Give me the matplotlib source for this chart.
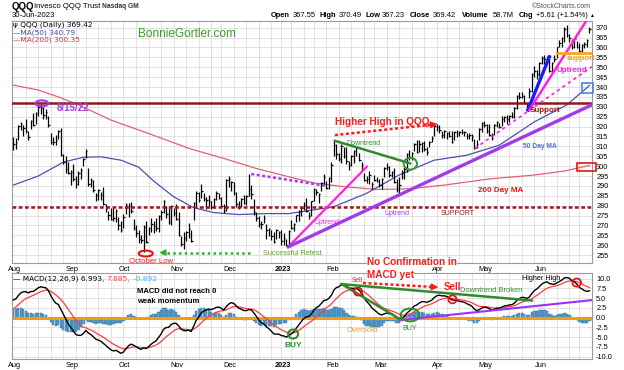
import numpy as np
import pandas as pd
import matplotlib
matplotlib.use("Agg")
import matplotlib.pyplot as plt
from matplotlib.patches import Ellipse, Rectangle

plt.rcParams["font.family"] = ["Liberation Sans", "DejaVu Sans"]

W_PX, H_PX = 624, 370

HOLIDAYS = ["2022-09-05", "2022-11-24", "2022-12-26", "2023-01-02",
            "2023-01-16", "2023-02-20", "2023-04-07", "2023-05-29", "2023-06-19"]

# daily bars, Aug 2022 .. Jun 2023, one line per month
highs = [
    314.5, 314, 321, 322.5, 321, 324, 318, 323.5, 327, 327.5, 331, 331.5, 330, 329, 325.5, 317, 314.5, 315.5, 318.5, 319.5, 306, 305, 302,
    298, 301, 295, 297.5, 299, 304, 308.5, 299, 294, 293, 286.5, 288.5, 287, 289.5, 281, 277.5, 279, 279, 278.5, 274.5, 272,
    276, 281.5, 281.5, 282, 273.5, 270, 267.5, 265, 270, 272, 269, 274, 272, 274, 275.5, 278, 283, 280, 279, 280.5, 279,
    281, 277, 264.5, 266.5, 267, 271, 267.5, 282, 287.5, 287, 291, 286.5, 284.5, 285.5, 282.5, 284, 287.5, 286.5, 284.5, 281, 293.5,
    295, 292.5, 292, 287, 282.5, 284, 285.5, 285.5, 296, 290.5, 283.5, 277, 275, 272, 275.5, 270.5, 268.5, 267.5, 266.5, 268, 267,
    267.5, 266, 263, 267.5, 273, 271, 275.5, 278, 279.5, 282, 284, 277, 282.5, 289, 288.5, 286.5, 292, 296, 292.5, 294.5,
    302, 313, 311, 306.5, 311, 309.5, 309.5, 302.5, 305.5, 308, 309.5, 306.5, 302, 296.5, 295, 297.5, 292, 295.5, 294.5,
    293.5, 294, 299.5, 301.5, 300, 297.5, 299, 293.5, 294.5, 298, 299.5, 306.5, 308, 307, 311.5, 313, 313, 312, 312.5, 309.5, 312.5, 315, 321,
    321.5, 321, 318, 318.5, 317.5, 318, 318, 318, 318.5, 318, 319, 318, 317, 316.5, 316, 313.5, 313, 319.5, 322.5,
    323, 321.5, 321.5, 316.5, 321.5, 323, 322, 325.5, 325.5, 326, 326, 327.5, 330, 336, 337.5, 337.5, 336, 332, 339.5, 347, 350.5, 348.5,
    352.5, 355.5, 356, 355.5, 355.5, 352.5, 356, 360.5, 364, 365.5, 370.5, 371.5, 367, 364.5, 365, 363.5, 362.5, 362, 363, 364.5, 370.5,
]
lows = [
    308, 308.5, 313, 318.5, 315, 316.5, 313, 319, 320.5, 321.5, 325.5, 326.5, 324, 324, 320, 311, 310.5, 310.5, 313.5, 305, 301, 296.5, 296,
    290.5, 292.5, 289, 290.5, 293.5, 300, 304, 290, 289.5, 287, 282.5, 283, 283, 280.5, 277, 272.5, 273, 272, 271.5, 267.5, 266.5,
    268.5, 276, 274.5, 276.5, 267.5, 264, 261, 261, 256.5, 261, 265, 266.5, 266, 267, 266.5, 272.5, 276.5, 274, 270.5, 270, 275,
    272.5, 264.5, 259.5, 258, 262, 263.5, 261.5, 273, 280, 282, 284, 282.5, 278.5, 280, 278.5, 279, 283, 283.5, 279.5, 276.5, 277.5,
    289.5, 287.5, 285.5, 279.5, 278.5, 279.5, 281, 280.5, 285, 283.5, 275.5, 272, 269, 268, 271, 263, 264.5, 262.5, 261, 263, 263.5,
    260, 260, 259.5, 259, 268, 267, 271.5, 272, 275, 278, 277, 273.5, 275, 282.5, 285.5, 281.5, 287.5, 290.5, 288.5, 288.5,
    292, 305, 303.5, 302.5, 301.5, 304, 301, 298, 300, 301.5, 305, 302.5, 297.5, 292.5, 291.5, 291, 288.5, 292.5, 292,
    289.5, 288.5, 294.5, 298, 294.5, 294.5, 291.5, 287, 285.5, 293.5, 293.5, 297, 303, 303, 307.5, 306.5, 307, 307, 307.5, 305.5, 309.5, 312, 315,
    318, 317, 314, 314, 313.5, 314.5, 311.5, 313, 314.5, 315, 316, 315, 313.5, 313.5, 312.5, 308.5, 309, 313, 317.5,
    320, 317, 315, 313, 315.5, 320, 319.5, 320.5, 322.5, 321.5, 322.5, 324.5, 324.5, 329, 334, 334.5, 331.5, 328.5, 334.5, 337.5, 345, 344,
    345.5, 351.5, 351.5, 351.5, 347.5, 347.5, 352.5, 354.5, 360, 360.5, 363, 365.5, 363, 359, 359.5, 359.5, 357.5, 357.5, 359.5, 360.5, 367.2,
]
closes = [
    311, 312, 320.5, 321.5, 319.5, 318, 314.5, 323, 321, 327, 330, 329.5, 326, 327.5, 321, 312, 312, 313, 318, 305.5, 302, 298.5, 296.5,
    297, 293.5, 291, 296.5, 298, 303.5, 307.5, 291, 293, 288, 285.5, 288, 285.5, 281, 278.5, 275.5, 273.5, 274, 277.5, 270, 267.5,
    274.5, 280.5, 280, 277.5, 268.5, 266, 263, 262.5, 269, 261.5, 268.5, 270.5, 269.5, 268.5, 275, 277, 282.5, 276, 271.5, 280, 276.5,
    273.5, 265, 260.5, 263.5, 266.5, 268, 262, 281.5, 286.5, 283, 287.5, 283.5, 283, 282.5, 279.5, 283.5, 286.5, 284, 280, 277.5, 293,
    293.5, 292, 286.5, 281, 280, 283.5, 281.5, 285, 288.5, 286, 277, 274, 270.5, 270.5, 274, 267.5, 268, 264.5, 261.5, 267.5, 266.5,
    262, 263.5, 260, 267, 268.5, 270.5, 275.5, 277.5, 279, 280.5, 277.5, 275, 282.5, 288.5, 287, 286, 291.5, 294.5, 289, 294,
    300.5, 310.5, 306, 303.5, 310, 305, 302.5, 300.5, 305, 307.5, 309, 303, 300.5, 293, 293.5, 295.5, 291, 293, 292.5,
    290.5, 293.5, 299, 299.5, 295.5, 297, 292, 288, 290.5, 297, 298.5, 306, 304.5, 306.5, 311, 307, 311, 311.5, 308.5, 307, 312, 314, 320.5,
    320, 318.5, 315.5, 318, 317, 315, 312, 317.5, 317, 317.5, 317.5, 317.5, 315, 315.5, 314.5, 309, 311, 319, 322,
    321, 318, 315.5, 314, 321, 322.5, 320, 324, 325, 324, 325.5, 325.5, 329.5, 335.5, 335, 335.5, 332, 330.5, 338, 346.5, 348, 346.5,
    352, 354.5, 354, 354.5, 348, 352, 354, 360, 362.5, 365, 369.5, 366.5, 365, 360, 364.5, 360.5, 358, 361.5, 362, 363.8, 369.4,
]

# moving averages at trading-day positions
ma50_idx = [0, 10, 20, 28, 35, 43, 50, 56, 64, 72, 80, 90, 101, 110, 118, 128, 141, 154, 168, 181, 194, 208, 221, 230]
ma50_val = [290.4, 295, 302, 304.5, 304.7, 303, 299.5, 292.5, 284.5, 279, 276.5, 275.5, 276, 276, 277.5, 279.5,
            286.2, 295.5, 303, 305.5, 310.6, 322.4, 331, 340.8]
ma200_idx = [0, 10, 18, 26, 39, 52, 59, 70, 84, 97, 110, 120, 132, 145, 158, 172, 190, 208, 220, 230]
ma200_val = [341, 338.5, 335, 331, 323.3, 317.4, 314.2, 309, 303.9, 298.8, 294.6, 291.5, 289.6, 288.2, 288.5,
             290.4, 293.5, 295.5, 297.5, 300.35]

# EMA state going into Aug 1 (12-day, 26-day, 9-day signal)
macd_seed = [303.0, 298.8, 1.6]

month_labels = ["Aug", "Sep", "Oct", "Nov", "Dec", "2023", "Feb", "Mar", "Apr", "May", "Jun"]
price_ticks = list(range(255, 371, 5))
macd_ticks = [-10, -7.5, -5, -2.5, 0, 2.5, 5, 7.5, 10]


def compute_macd(values, seed):
    ema12, ema26, sig = seed
    macd, signal = [], []
    for c in values:
        ema12 += (c - ema12) * 2 / 13
        ema26 += (c - ema26) * 2 / 27
        m = ema12 - ema26
        sig += (m - sig) * 2 / 10
        macd.append(m)
        signal.append(sig)
    return np.array(macd), np.array(signal)


dates = pd.bdate_range("2022-08-01", "2023-06-30")
dates = dates[~dates.isin(pd.to_datetime(HOLIDAYS))]
n = len(dates)
assert n == len(closes) == len(highs) == len(lows)
x = np.arange(n)

month_pos = [0] + [i for i in range(1, n) if dates[i].month != dates[i - 1].month]
week_pos = [i for i in range(1, n) if dates[i].weekday() < dates[i - 1].weekday()]

macd, signal = compute_macd(closes, macd_seed)
hist = macd - signal

fig = plt.figure(figsize=(W_PX / 100, H_PX / 100), dpi=100)
ax = fig.add_axes([12 / W_PX, 1 - 263 / H_PX, 580 / W_PX, 242 / H_PX])
mx = fig.add_axes([12 / W_PX, 1 - 359 / H_PX, 580 / W_PX, 86 / H_PX])


def ptext(px, py, s, **kw):
    kw.setdefault("va", "center")
    kw.setdefault("ha", "left")
    fig.text(px / W_PX, 1 - py / H_PX, s, **kw)


def style_panel(a, yticks, fmt, ylim, labels):
    a.set_xlim(-0.5, n)
    a.set_ylim(*ylim)
    a.set_xticks([p + 0.5 for p in month_pos])
    a.set_xticklabels(labels, fontsize=5.3)
    for lbl in a.get_xticklabels():
        if lbl.get_text() == "2023":
            lbl.set_fontweight("bold")
    a.set_xticks(week_pos, minor=True)
    a.set_yticks(yticks)
    a.set_yticklabels([fmt.format(t) for t in yticks], fontsize=5.3)
    a.yaxis.tick_right()
    a.tick_params(axis="both", which="both", length=0)
    a.tick_params(axis="x", pad=2.5)
    a.tick_params(axis="y", pad=3)
    a.grid(which="minor", axis="x", color="#dddddd", lw=0.6)
    a.grid(which="major", axis="y", color="#dddddd", lw=0.6)
    a.set_axisbelow(True)
    for sp in a.spines.values():
        sp.set_color("#9a9a9a")
        sp.set_linewidth(0.8)


# the "Mar" label of the price panel sits under the "MACD yet" note in the original
top_labels = [m if m != "Mar" else "" for m in month_labels]
style_panel(ax, price_ticks, "{:d}", (251, 373.4), top_labels)
style_panel(mx, macd_ticks, "{:.1f}", (-10.6, 11.46), month_labels)

# ---- price panel
ax.plot(ma200_idx, ma200_val, color="#e0607a", lw=0.9, zorder=2)
ax.plot(ma50_idx, ma50_val, color="#4a50b0", lw=0.9, zorder=2)
ax.vlines(x, lows, highs, color="black", lw=0.9, zorder=3)
ax.hlines(closes, x, x + 0.6, color="black", lw=0.9, zorder=3)

ax.axhline(331.7, color="#8b1a1a", lw=1.8, zorder=4)
ax.axhline(279.2, color="#9b1b1b", lw=1.8, ls=(0, (1.5, 1)), zorder=4)

purple = "#a23be8"
green = "#2e8b2e"
magenta = "#ff22dd"

ax.add_patch(Ellipse((11.4, 331.75), 5.2, 3.0, fill=False, ec=purple, lw=1.5, zorder=5))
ax.text(17.5, 329.4, "8/15/22", color=purple, fontsize=7, fontweight="bold", va="center", zorder=5)

ax.add_patch(Ellipse((52.9, 255.8), 5.6, 3.0, fill=False, ec="#ee1111", lw=1.5, zorder=5, clip_on=False))
ax.text(55, 251.6, "October Low", color="#e02020", fontsize=5.6, ha="center", va="center",
        zorder=5, clip_on=False)
ax.plot([94.5, 59.5], [256.3, 256.3], color="#33aa33", lw=1.8, ls=(0, (1, 1.3)), zorder=5)
ax.annotate("", xy=(57.2, 256.3), xytext=(61, 256.3),
            arrowprops=dict(arrowstyle="-|>", color="#33aa33", lw=1, mutation_scale=9), zorder=5)
ax.text(111.3, 256, "Successful Retest", color="#5aa02c", fontsize=5.3, ha="center", va="center", zorder=5)

ax.plot([95, 125], [296, 290], color=purple, lw=1.8, ls=(0, (1.2, 1)), zorder=5)
ax.plot([109.8, 141.1], [259.2, 299.7], color=magenta, lw=1.6, zorder=5)
ax.text(125.2, 271.7, "Uptrend", color=magenta, fontsize=5, ha="center", va="center", zorder=5)
ax.plot([109.8, 231], [259.2, 331], color=purple, lw=2.4, zorder=5)
ax.text(153.2, 276, "Uptrend", color=purple, fontsize=5, ha="center", va="center", zorder=5)

ax.plot([128.4, 158.4], [312.8, 301.4], color=green, lw=1.8, zorder=5)
ax.add_patch(Ellipse((158.5, 301.2), 5.3, 5.9, fill=False, ec="#3a9a3a", lw=1.5, zorder=5))
ax.text(139.6, 311.2, "Downtrend", color=green, fontsize=5, ha="center", va="center", zorder=5)

ax.text(128.4, 322.4, "Higher High in QQQ", color="#ff1a1a", fontsize=7.2, fontweight="bold",
        va="center", zorder=5)
ax.plot([128.4, 166.5], [315.7, 320.9], color="#ff1a1a", lw=1.8, ls=(0, (1.2, 1)), zorder=5)
ax.annotate("", xy=(170.5, 321.4), xytext=(166, 320.8),
            arrowprops=dict(arrowstyle="-|>", color="#ff1a1a", lw=1, mutation_scale=10), zorder=5)

ax.plot([184.3, 231], [309, 350.3], color=magenta, lw=1.2, ls=(0, (2, 2)), zorder=5)
ax.plot([205.4, 214], [328.4, 355.3], color="#1a1aff", lw=2.4, zorder=5)
ax.plot([206, 230.5], [328.4, 377], color=magenta, lw=1.8, zorder=5)
ax.text(223, 348.6, "Uptrend", color=magenta, fontsize=5.8, fontweight="bold", ha="center",
        va="center", zorder=5)
ax.plot([217, 231], [357, 357], color="#f5a623", lw=2, zorder=5)
ax.text(226.6, 354.2, "support", color="#f5a020", fontsize=5.6, fontweight="bold", ha="center",
        va="center", zorder=5, clip_on=False)
ax.add_patch(Rectangle((226.9, 336.8), 4.6, 5.1, fill=False, ec="#4a86e8", lw=1.2, zorder=5, clip_on=False))
ax.add_patch(Rectangle((224.9, 297.6), 7.7, 3.8, fill=False, ec="#ee1111", lw=1.2, zorder=5, clip_on=False))
ax.text(212.3, 328, "Support", color="#a01010", fontsize=5.8, fontweight="bold", ha="center",
        va="center", zorder=5)
ax.text(210.3, 309.8, "50 Day MA", color="#4a6fdc", fontsize=4.8, fontweight="bold", ha="center",
        va="center", zorder=5)
ax.text(194.7, 287.9, "200 Day MA", color="#ee1111", fontsize=5.8, fontweight="bold", ha="center",
        va="center", zorder=5)
ax.text(177.5, 276.2, "SUPPORT", color="#a01010", fontsize=5, ha="center", va="center", zorder=5)
ax.text(69.4, 366.7, "BonnieGortler.com", color="#3a9a28", fontsize=8.5, ha="center", va="center", zorder=5)

# ---- MACD panel
mx.bar(x, hist, width=0.9, color="#5a9fd0", edgecolor="#2d6a96", linewidth=0.3, zorder=2)
mx.axhline(0, color="#f39c12", lw=2.2, zorder=2.5)
mx.plot(x, signal, color="#ff3b3b", lw=0.9, zorder=3)
mx.plot(x, macd, color="black", lw=1.0, zorder=3)

mx.text(49.4, 6.8, "MACD did not reach 0", fontsize=5.5, fontweight="bold", va="center", zorder=5)
mx.text(49.4, 4.2, "weak momentum", fontsize=5.5, fontweight="bold", va="center", zorder=5)
mx.add_patch(Ellipse((111.7, -4.2), 4, 2.3, fill=False, ec=green, lw=1.5, zorder=5))
mx.text(111.7, -7.2, "BUY", color=green, fontsize=6, fontweight="bold", ha="center", va="center", zorder=5)

mx.text(137.2, 9.5, "Sell", color="#ff2020", fontsize=4.8, ha="center", va="center", zorder=5)
mx.add_patch(Ellipse((137.6, 6.7), 3.2, 2.05, fill=False, ec="#ee1111", lw=1.3, zorder=5))
mx.plot([131.1, 154.4], [8.6, -0.4], color=green, lw=1.8, zorder=4)
mx.plot([131.1, 207], [8.6, 4.4], color=green, lw=1.8, zorder=4)
mx.add_patch(Ellipse((158.4, 0.7), 7.5, 3.3, fill=False, ec=green, lw=1.4, zorder=5))
mx.text(158.4, -2.7, "BUY", color=green, fontsize=5.1, ha="center", va="center", zorder=5)
mx.text(139.2, -3.2, "Oversold", color="#f39c12", fontsize=5.6, ha="center", va="center", zorder=5)
mx.plot([154.4, 231], [-0.6, 4.5], color="#9b30ff", lw=1.5, zorder=4)

mx.plot([139.6, 167.5], [8.9, 7.9], color="#ff1a1a", lw=1.8, ls=(0, (1.2, 1)), zorder=5)
mx.annotate("", xy=(170.8, 7.8), xytext=(167, 7.9),
            arrowprops=dict(arrowstyle="-|>", color="#ff1a1a", lw=1, mutation_scale=10), zorder=5)
mx.text(171.9, 7.9, "Sell", color="#ff1a1a", fontsize=7, fontweight="bold", va="center", zorder=5)
mx.add_patch(Ellipse((175.3, 4.7), 3.2, 2.05, fill=False, ec="#ee1111", lw=1.3, zorder=5))
mx.text(178.3, 6.9, "Downtrend Broken", color=green, fontsize=5.4, va="center", zorder=5)
mx.text(203.1, 10.1, "Higher High", color="black", fontsize=5.2, va="center", zorder=5)
mx.add_patch(Ellipse((224.9, 9.0), 3.4, 2.1, fill=False, ec="#ee1111", lw=1.3, zorder=5))

# ---- header and legends
ptext(12, 6.5, "QQQ", fontsize=7, fontweight="bold")
ptext(34, 6.5, "Invesco QQQ Trust", fontsize=5.6)
ptext(102, 7, "Nasdaq GM", fontsize=4.8, fontweight="bold", color="#333333")
ptext(12, 15.5, "30-Jun-2023", fontsize=5.6)
ptext(531.7, 6, "\u00a9StockCharts.com", fontsize=5, color="#555555")

quote_labels = ["Open", "High", "Low", "Close", "Volume", "Chg"]
quote_values = ["367.55", "370.49", "367.23", "369.42", "58.7M", "+5.61 (+1.54%)"]
label_px = [270.5, 320, 365, 410, 462, 519]
value_px = [292.5, 339, 382, 433, 492.5, 536]
for lab, val, lx, vx in zip(quote_labels, quote_values, label_px, value_px):
    ptext(lx, 15.5, lab, fontsize=5.4, fontweight="bold")
    ptext(vx, 15.5, val, fontsize=5.4)
ptext(589, 15.5, "\u25b2", fontsize=3.5)

ptext(13, 25, "\u03c8 QQQ (Daily) 369.42", fontsize=5.3, family="DejaVu Sans")
ptext(13, 32.5, "\u2014MA(50) 340.79", fontsize=5.3, family="DejaVu Sans", color="#3a48b0")
ptext(13, 39.5, "\u2014MA(200) 300.35", fontsize=5.3, family="DejaVu Sans", color="#e0304a")

ptext(13, 279, "\u2014 MACD(12,26,9) 6.993,", fontsize=5.3, family="DejaVu Sans")
ptext(106.7, 279, "7.885,", fontsize=5.3, family="DejaVu Sans", color="#ff4040")
ptext(134, 279, "-0.892", fontsize=5.3, family="DejaVu Sans", color="#4aa8e8")

box = dict(facecolor="white", edgecolor="none", pad=0.1)
ptext(367, 262, "No Confirmation in", fontsize=7.2, fontweight="bold", color="#ff1a1a", bbox=box)
ptext(367, 274.5, "MACD yet", fontsize=7.2, fontweight="bold", color="#ff1a1a", bbox=box)

fig.savefig("out.png", dpi=100)
